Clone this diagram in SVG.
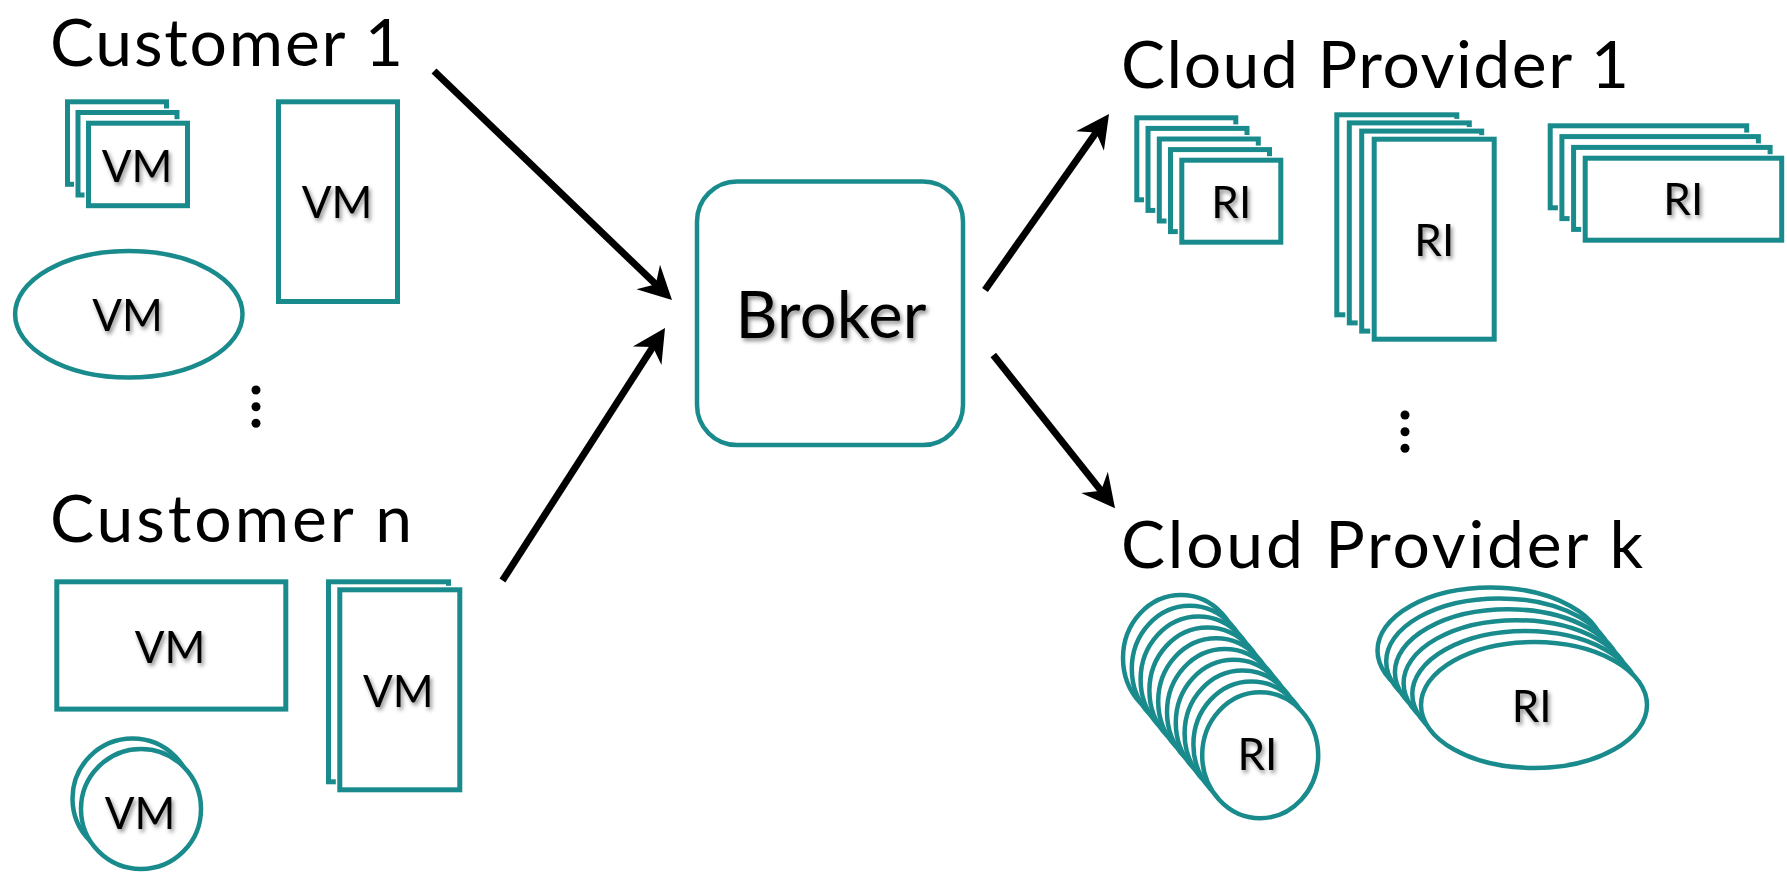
<svg xmlns="http://www.w3.org/2000/svg" width="1787" height="877" viewBox="0 0 1787 877">
  <defs>
    <style>
      .title { font-family: Lato, "Liberation Sans", sans-serif; font-size: 66px; fill: #000; }
      .lbl { font-family: Lato, "Liberation Sans", sans-serif; font-size: 44px; fill: #000; text-anchor: middle; filter: url(#shadow); }
      .big { font-size: 65px; }
      .box { fill: #fff; stroke: #1a8b8c; stroke-width: 5; }
      .halo { fill: #fff; stroke: #fff; stroke-width: 8; }
      .oval { fill: #fff; stroke: #1a8b8c; stroke-width: 4.5; }
      .edge { fill: none; stroke: #000; stroke-width: 7; stroke-linecap: butt; marker-end: url(#head); }
      .dot { fill: #000; }
    </style>
    <filter id="shadow" x="-20%" y="-30%" width="140%" height="160%">
      <feDropShadow dx="2" dy="3" stdDeviation="2" flood-color="#000" flood-opacity="0.45"/>
    </filter>
    <marker id="head" markerUnits="userSpaceOnUse" orient="auto" refX="0" refY="0" overflow="visible">
      <path d="M20,0 L-13,-17 L-2.5,0 L-13,17 Z" fill="#000"/>
    </marker>
  </defs>
  <rect width="1787" height="877" fill="#fff"/>

  <!-- Customer 1 -->
  <g id="customer-1">
    <text class="title" x="50" y="65.5" textLength="353">Customer 1</text>
    <rect class="halo" x="67.5" y="101.8" width="99" height="82.5"/>
    <rect class="box" x="67.5" y="101.8" width="99" height="82.5"/>
    <rect class="halo" x="78" y="112.5" width="99" height="82.5"/>
    <rect class="box" x="78" y="112.5" width="99" height="82.5"/>
    <rect class="halo" x="88.5" y="123.2" width="99" height="82.5"/>
    <rect class="box" x="88.5" y="123.2" width="99" height="82.5"/>
    <text class="lbl" x="137" y="181.7">VM</text>
    <rect class="box" x="278.5" y="101.8" width="119" height="199.7"/>
    <text class="lbl" x="337" y="218.3">VM</text>
    <ellipse class="oval" cx="128.8" cy="314.2" rx="113.7" ry="63.3"/>
    <text class="lbl" x="127.5" y="331">VM</text>
    <circle class="dot" cx="256" cy="390" r="4.5"/>
    <circle class="dot" cx="256" cy="406.7" r="4.5"/>
    <circle class="dot" cx="256" cy="423.3" r="4.5"/>
  </g>

  <!-- Customer n -->
  <g id="customer-n">
    <text class="title" x="50" y="542" textLength="362">Customer n</text>
    <rect class="box" x="56.8" y="581.8" width="229" height="127.3"/>
    <text class="lbl" x="170" y="663.3">VM</text>
    <rect class="halo" x="328.5" y="581.8" width="120" height="200"/>
    <rect class="box" x="328.5" y="581.8" width="120" height="200"/>
    <rect class="halo" x="339.8" y="589.8" width="120" height="200"/>
    <rect class="box" x="339.8" y="589.8" width="120" height="200"/>
    <text class="lbl" x="398.3" y="706.7">VM</text>
    <circle class="oval" cx="132.5" cy="798.5" r="60"/>
    <circle class="oval" cx="141" cy="809" r="60"/>
    <text class="lbl" x="140" y="829.3">VM</text>
  </g>

  <!-- Broker -->
  <g id="broker">
    <rect x="697" y="181.5" width="266" height="263.5" rx="40" ry="40" fill="#fff" stroke="#1a8b8c" stroke-width="4.5"/>
    <text class="lbl big" x="831" y="338" textLength="191">Broker</text>
  </g>

  <!-- Cloud Provider 1 -->
  <g id="provider-1">
    <text class="title" x="1121" y="88" textLength="508">Cloud Provider 1</text>
    <rect class="halo" x="1136.8" y="117.8" width="99" height="82"/>
    <rect class="box" x="1136.8" y="117.8" width="99" height="82"/>
    <rect class="halo" x="1148" y="128.4" width="99" height="82"/>
    <rect class="box" x="1148" y="128.4" width="99" height="82"/>
    <rect class="halo" x="1159.3" y="139" width="99" height="82"/>
    <rect class="box" x="1159.3" y="139" width="99" height="82"/>
    <rect class="halo" x="1170.5" y="149.6" width="99" height="82"/>
    <rect class="box" x="1170.5" y="149.6" width="99" height="82"/>
    <rect class="halo" x="1181.8" y="160.2" width="99" height="82"/>
    <rect class="box" x="1181.8" y="160.2" width="99" height="82"/>
    <text class="lbl" x="1231.3" y="218">RI</text>

    <rect class="halo" x="1336.8" y="114.8" width="120" height="200"/>
    <rect class="box" x="1336.8" y="114.8" width="120" height="200"/>
    <rect class="halo" x="1349.3" y="122.9" width="120" height="200"/>
    <rect class="box" x="1349.3" y="122.9" width="120" height="200"/>
    <rect class="halo" x="1361.7" y="131.1" width="120" height="200"/>
    <rect class="box" x="1361.7" y="131.1" width="120" height="200"/>
    <rect class="halo" x="1374.2" y="139.2" width="120" height="200"/>
    <rect class="box" x="1374.2" y="139.2" width="120" height="200"/>
    <text class="lbl" x="1434.3" y="256">RI</text>

    <rect class="halo" x="1550.2" y="125.8" width="196.5" height="82"/>
    <rect class="box" x="1550.2" y="125.8" width="196.5" height="82"/>
    <rect class="halo" x="1561.9" y="136.6" width="196.5" height="82"/>
    <rect class="box" x="1561.9" y="136.6" width="196.5" height="82"/>
    <rect class="halo" x="1573.6" y="147.4" width="196.5" height="82"/>
    <rect class="box" x="1573.6" y="147.4" width="196.5" height="82"/>
    <rect class="halo" x="1585.2" y="158.2" width="196.5" height="82"/>
    <rect class="box" x="1585.2" y="158.2" width="196.5" height="82"/>
    <text class="lbl" x="1683.3" y="215">RI</text>

    <circle class="dot" cx="1405" cy="415" r="4.5"/>
    <circle class="dot" cx="1405" cy="431.7" r="4.5"/>
    <circle class="dot" cx="1405" cy="448.3" r="4.5"/>
  </g>

  <!-- Cloud Provider k -->
  <g id="provider-k">
    <text class="title" x="1121" y="568" textLength="522">Cloud Provider k</text>
    <ellipse class="oval" cx="1181" cy="658" rx="58" ry="63"/>
    <ellipse class="oval" cx="1189.8" cy="668.8" rx="58" ry="63"/>
    <ellipse class="oval" cx="1198.6" cy="679.6" rx="58" ry="63"/>
    <ellipse class="oval" cx="1207.4" cy="690.4" rx="58" ry="63"/>
    <ellipse class="oval" cx="1216.2" cy="701.2" rx="58" ry="63"/>
    <ellipse class="oval" cx="1225" cy="712" rx="58" ry="63"/>
    <ellipse class="oval" cx="1233.8" cy="722.8" rx="58" ry="63"/>
    <ellipse class="oval" cx="1242.6" cy="733.6" rx="58" ry="63"/>
    <ellipse class="oval" cx="1251.4" cy="744.4" rx="58" ry="63"/>
    <ellipse class="oval" cx="1260.2" cy="755.2" rx="58" ry="63"/>
    <text class="lbl" x="1257.5" y="770">RI</text>

    <ellipse class="oval" cx="1490.5" cy="650.5" rx="113" ry="63"/>
    <ellipse class="oval" cx="1499.2" cy="661.4" rx="113" ry="63"/>
    <ellipse class="oval" cx="1507.9" cy="672.3" rx="113" ry="63"/>
    <ellipse class="oval" cx="1516.6" cy="683.2" rx="113" ry="63"/>
    <ellipse class="oval" cx="1525.3" cy="694.1" rx="113" ry="63"/>
    <ellipse class="oval" cx="1534" cy="705" rx="113" ry="63"/>
    <text class="lbl" x="1531.7" y="721.7">RI</text>
  </g>

  <!-- Connectors -->
  <g id="connectors">
    <path class="edge" d="M434,71 L657.6,286.1"/>
    <path class="edge" d="M502.5,580.5 L654.2,344.8"/>
    <path class="edge" d="M985,290 L1097.5,130.4"/>
    <path class="edge" d="M993.3,355 L1102.6,492.6"/>
  </g>
</svg>
